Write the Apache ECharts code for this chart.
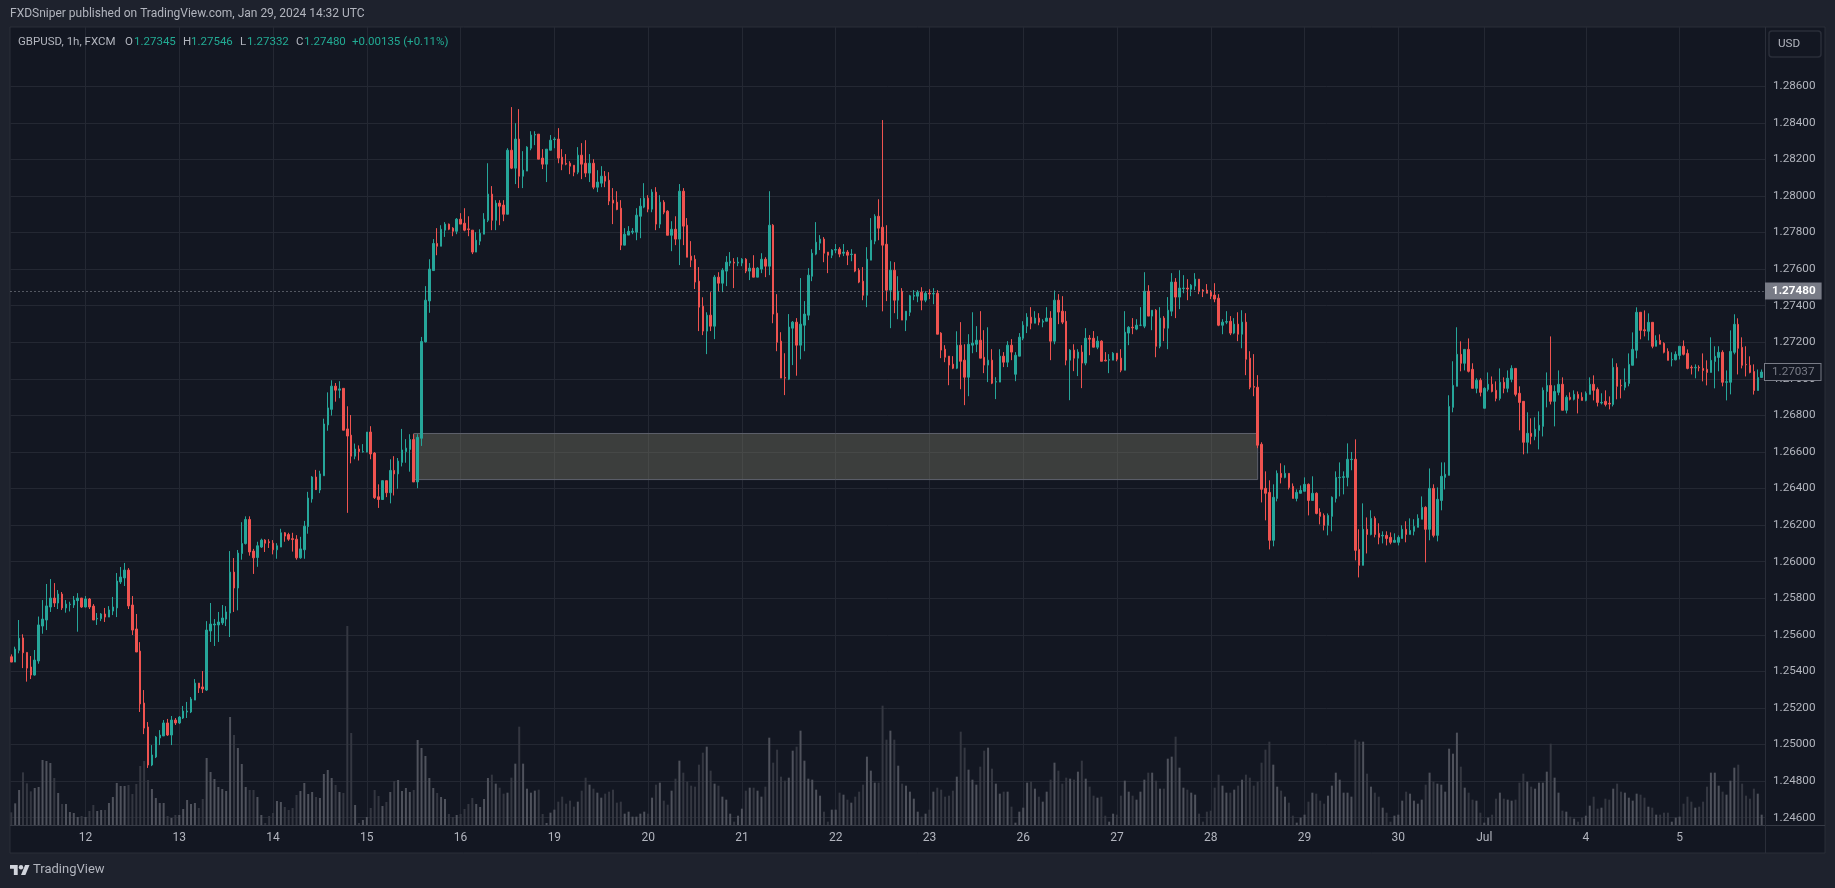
<!DOCTYPE html>
<html>
<head>
<meta charset="utf-8">
<title>GBPUSD</title>
<style>html,body{margin:0;padding:0;background:#1e222d}#chart{width:1835px;height:888px}</style>
<script src="https://cdn.jsdelivr.net/npm/echarts@6/dist/echarts.min.js"></script>
</head>
<body>
<div id="chart"></div>
<script>
// hourly bars, each row: open, close, low, high
var candles = [
[1.25480,1.25451,1.25451,1.25493],[1.25451,1.25522,1.25451,1.25535],[1.25515,1.25581,1.25499,1.25681],[1.25583,1.25502,1.25418,1.25603],
[1.25504,1.25418,1.25344,1.25504],[1.25424,1.25380,1.25358,1.25484],[1.25380,1.25462,1.25377,1.25517],[1.25457,1.25654,1.25442,1.25700],
[1.25648,1.25686,1.25606,1.25790],[1.25681,1.25758,1.25626,1.25878],[1.25752,1.25801,1.25725,1.25905],[1.25801,1.25774,1.25752,1.25883],
[1.25774,1.25823,1.25741,1.25845],[1.25823,1.25747,1.25736,1.25834],[1.25747,1.25768,1.25721,1.25790],[1.25765,1.25768,1.25728,1.25781],
[1.25763,1.25790,1.25747,1.25812],[1.25787,1.25801,1.25617,1.25828],[1.25801,1.25752,1.25747,1.25801],[1.25752,1.25796,1.25750,1.25812],
[1.25796,1.25752,1.25741,1.25801],[1.25757,1.25681,1.25681,1.25768],[1.25687,1.25690,1.25654,1.25719],[1.25688,1.25714,1.25675,1.25719],
[1.25714,1.25697,1.25670,1.25747],[1.25697,1.25736,1.25697,1.25757],[1.25730,1.25752,1.25708,1.25807],[1.25747,1.25894,1.25697,1.25938],
[1.25889,1.25916,1.25878,1.25971],[1.25911,1.25954,1.25867,1.25993],[1.25954,1.25758,1.25741,1.25965],[1.25763,1.25626,1.25599,1.25812],
[1.25632,1.25506,1.25506,1.25714],[1.25511,1.25222,1.25178,1.25560],[1.25227,1.25090,1.25057,1.25298],[1.25096,1.24888,1.24872,1.25123],
[1.24888,1.24943,1.24882,1.24997],[1.24932,1.25041,1.24926,1.25047],[1.25036,1.25052,1.24997,1.25079],[1.25047,1.25118,1.25047,1.25134],
[1.25118,1.25052,1.25047,1.25140],[1.25052,1.25134,1.24997,1.25156],[1.25134,1.25118,1.25107,1.25145],[1.25118,1.25150,1.25112,1.25156],
[1.25145,1.25183,1.25140,1.25211],[1.25178,1.25183,1.25145,1.25233],[1.25178,1.25249,1.25172,1.25260],[1.25243,1.25336,1.25243,1.25358],
[1.25336,1.25309,1.25282,1.25336],[1.25315,1.25304,1.25282,1.25402],[1.25298,1.25626,1.25293,1.25675],[1.25621,1.25659,1.25561,1.25774],
[1.25654,1.25659,1.25539,1.25686],[1.25654,1.25670,1.25561,1.25725],[1.25665,1.25692,1.25654,1.25763],[1.25686,1.25725,1.25648,1.25757],
[1.25719,1.25943,1.25588,1.26058],[1.25943,1.25856,1.25725,1.26020],[1.25856,1.26047,1.25734,1.26064],[1.26045,1.26099,1.26011,1.26216],
[1.26099,1.26231,1.26094,1.26248],[1.26231,1.26053,1.26033,1.26248],[1.26058,1.26021,1.25933,1.26070],[1.26023,1.26087,1.25972,1.26109],
[1.26080,1.26118,1.26075,1.26126],[1.26118,1.26101,1.26053,1.26123],[1.26109,1.26104,1.26075,1.26123],[1.26101,1.26065,1.26040,1.26118],
[1.26065,1.26087,1.26016,1.26101],[1.26080,1.26158,1.26080,1.26180],[1.26158,1.26140,1.26109,1.26162],[1.26148,1.26123,1.26114,1.26158],
[1.26126,1.26121,1.26055,1.26158],[1.26123,1.26021,1.26011,1.26145],[1.26021,1.26070,1.26016,1.26136],[1.26065,1.26194,1.26016,1.26223],
[1.26192,1.26348,1.26153,1.26382],[1.26343,1.26463,1.26323,1.26468],[1.26463,1.26394,1.26392,1.26502],[1.26392,1.26480,1.26375,1.26497],
[1.26470,1.26753,1.26470,1.26782],[1.26748,1.26841,1.26716,1.26926],[1.26833,1.26960,1.26799,1.26992],[1.26960,1.26938,1.26875,1.26977],
[1.26938,1.26945,1.26894,1.26987],[1.26948,1.26719,1.26719,1.26948],[1.26726,1.26687,1.26267,1.26850],[1.26692,1.26577,1.26538,1.26802],
[1.26577,1.26616,1.26560,1.26646],[1.26616,1.26602,1.26553,1.26636],[1.26600,1.26602,1.26597,1.26643],[1.26599,1.26709,1.26599,1.26709],
[1.26709,1.26589,1.26560,1.26741],[1.26594,1.26350,1.26343,1.26599],[1.26355,1.26340,1.26294,1.26423],[1.26340,1.26443,1.26340,1.26443],
[1.26443,1.26377,1.26353,1.26443],[1.26377,1.26499,1.26319,1.26560],[1.26499,1.26480,1.26362,1.26577],[1.26480,1.26550,1.26399,1.26567],
[1.26543,1.26611,1.26521,1.26726],[1.26602,1.26621,1.26541,1.26670],[1.26614,1.26668,1.26492,1.26697],[1.26668,1.26436,1.26436,1.26697],
[1.26436,1.26680,1.26402,1.26697],[1.26675,1.27204,1.26633,1.27229],[1.27202,1.27430,1.27199,1.27507],[1.27426,1.27600,1.27361,1.27654],
[1.27592,1.27740,1.27592,1.27764],[1.27740,1.27725,1.27676,1.27824],[1.27725,1.27818,1.27725,1.27840],[1.27813,1.27846,1.27776,1.27857],
[1.27846,1.27818,1.27813,1.27849],[1.27824,1.27807,1.27780,1.27829],[1.27807,1.27873,1.27791,1.27879],[1.27873,1.27846,1.27846,1.27906],
[1.27851,1.27813,1.27807,1.27933],[1.27820,1.27816,1.27780,1.27889],[1.27813,1.27693,1.27682,1.27813],[1.27693,1.27758,1.27693,1.27802],
[1.27753,1.27796,1.27731,1.27818],[1.27791,1.27873,1.27791,1.27906],[1.27867,1.28010,1.27857,1.28179],[1.28010,1.27867,1.27813,1.28054],
[1.27867,1.27961,1.27813,1.27977],[1.27961,1.27944,1.27840,1.27977],[1.27950,1.27900,1.27862,1.27977],[1.27900,1.28250,1.27900,1.28261],
[1.28250,1.28152,1.28147,1.28486],[1.28152,1.28311,1.28065,1.28398],[1.28311,1.28108,1.28043,1.28475],[1.28108,1.28141,1.28043,1.28245],
[1.28136,1.28267,1.28136,1.28272],[1.28261,1.28333,1.28250,1.28354],[1.28333,1.28336,1.28278,1.28354],[1.28338,1.28201,1.28201,1.28338],
[1.28207,1.28174,1.28147,1.28256],[1.28174,1.28256,1.28076,1.28256],[1.28250,1.28305,1.28250,1.28333],[1.28308,1.28311,1.28261,1.28322],
[1.28311,1.28207,1.28179,1.28371],[1.28212,1.28174,1.28141,1.28256],[1.28178,1.28174,1.28168,1.28229],[1.28179,1.28163,1.28119,1.28190],
[1.28168,1.28130,1.28108,1.28168],[1.28130,1.28223,1.28119,1.28267],[1.28223,1.28174,1.28092,1.28289],[1.28179,1.28125,1.28103,1.28305],
[1.28125,1.28179,1.28076,1.28229],[1.28179,1.28048,1.28037,1.28201],[1.28048,1.28076,1.28021,1.28141],[1.28070,1.28108,1.28048,1.28163],
[1.28108,1.28081,1.28048,1.28136],[1.28086,1.27972,1.27950,1.28130],[1.27977,1.27961,1.27846,1.28043],[1.27966,1.27926,1.27922,1.28026],
[1.27933,1.27731,1.27704,1.27977],[1.27731,1.27791,1.27731,1.27824],[1.27786,1.27807,1.27786,1.27835],[1.27802,1.27807,1.27791,1.27824],
[1.27802,1.27895,1.27758,1.27933],[1.27889,1.27944,1.27769,1.27988],[1.27939,1.27988,1.27933,1.28070],[1.27988,1.27928,1.27911,1.28004],
[1.27928,1.28021,1.27911,1.28037],[1.28021,1.27846,1.27813,1.28048],[1.27846,1.27966,1.27824,1.28004],[1.27966,1.27911,1.27900,1.27977],
[1.27917,1.27785,1.27785,1.27922],[1.27785,1.27818,1.27698,1.27862],[1.27818,1.27764,1.27731,1.27889],[1.27764,1.28026,1.27622,1.28065],
[1.28026,1.27835,1.27731,1.28043],[1.27840,1.27665,1.27665,1.27879],[1.27671,1.27649,1.27611,1.27753],[1.27654,1.27529,1.27491,1.27676],
[1.27534,1.27392,1.27261,1.27611],[1.27397,1.27261,1.27239,1.27446],[1.27261,1.27348,1.27135,1.27364],[1.27348,1.27288,1.27261,1.27474],
[1.27288,1.27556,1.27217,1.27567],[1.27556,1.27523,1.27479,1.27583],[1.27523,1.27594,1.27474,1.27605],[1.27589,1.27638,1.27507,1.27671],
[1.27633,1.27643,1.27616,1.27693],[1.27638,1.27633,1.27496,1.27660],[1.27633,1.27638,1.27616,1.27665],[1.27633,1.27654,1.27616,1.27660],
[1.27654,1.27589,1.27578,1.27660],[1.27589,1.27605,1.27540,1.27633],[1.27605,1.27556,1.27556,1.27676],[1.27556,1.27605,1.27556,1.27611],
[1.27600,1.27654,1.27578,1.27687],[1.27654,1.27616,1.27556,1.27665],[1.27616,1.27840,1.27567,1.28026],[1.27840,1.27354,1.27304,1.27846],
[1.27359,1.27200,1.27151,1.27463],[1.27206,1.27004,1.27004,1.27255],[1.27007,1.27004,1.26911,1.27140],[1.26998,1.27283,1.26993,1.27354],
[1.27277,1.27310,1.27075,1.27316],[1.27310,1.27184,1.27017,1.27332],[1.27184,1.27299,1.27107,1.27551],[1.27293,1.27354,1.27151,1.27425],
[1.27348,1.27567,1.27321,1.27605],[1.27561,1.27687,1.27534,1.27709],[1.27682,1.27747,1.27676,1.27857],[1.27742,1.27764,1.27704,1.27786],
[1.27764,1.27687,1.27638,1.27775],[1.27693,1.27676,1.27578,1.27693],[1.27676,1.27704,1.27660,1.27709],[1.27704,1.27707,1.27687,1.27737],
[1.27709,1.27682,1.27665,1.27720],[1.27687,1.27693,1.27671,1.27737],[1.27693,1.27676,1.27622,1.27704],[1.27680,1.27682,1.27643,1.27709],
[1.27682,1.27589,1.27583,1.27682],[1.27594,1.27529,1.27523,1.27605],[1.27534,1.27457,1.27430,1.27611],[1.27457,1.27654,1.27392,1.27720],
[1.27649,1.27758,1.27649,1.27879],[1.27753,1.27889,1.27736,1.27900],[1.27889,1.27824,1.27758,1.27982],[1.27829,1.27731,1.27369,1.28415],
[1.27736,1.27485,1.27425,1.27840],[1.27485,1.27594,1.27277,1.27643],[1.27594,1.27430,1.27359,1.27638],[1.27430,1.27479,1.27326,1.27561],
[1.27479,1.27321,1.27321,1.27496],[1.27321,1.27370,1.27261,1.27370],[1.27364,1.27454,1.27343,1.27459],[1.27452,1.27456,1.27430,1.27485],
[1.27452,1.27474,1.27419,1.27485],[1.27474,1.27430,1.27375,1.27501],[1.27430,1.27468,1.27419,1.27479],[1.27468,1.27464,1.27436,1.27490],
[1.27464,1.27467,1.27408,1.27496],[1.27468,1.27244,1.27244,1.27485],[1.27250,1.27157,1.27113,1.27255],[1.27162,1.27118,1.27091,1.27184],
[1.27124,1.27075,1.26965,1.27124],[1.27080,1.27058,1.27053,1.27124],[1.27058,1.27184,1.27053,1.27260],[1.27184,1.27096,1.26943,1.27310],
[1.27102,1.27009,1.26856,1.27189],[1.27009,1.27189,1.26905,1.27244],[1.27184,1.27195,1.27140,1.27364],[1.27189,1.27211,1.27146,1.27288],
[1.27211,1.27113,1.27113,1.27370],[1.27118,1.27075,1.27031,1.27266],[1.27075,1.27102,1.26982,1.27282],[1.27102,1.26976,1.26971,1.27162],
[1.26982,1.26985,1.26889,1.27009],[1.26982,1.27124,1.26982,1.27162],[1.27124,1.27091,1.27064,1.27146],[1.27091,1.27184,1.27064,1.27206],
[1.27184,1.27146,1.27102,1.27217],[1.27025,1.27129,1.26987,1.27146],[1.27124,1.27228,1.27124,1.27250],[1.27222,1.27293,1.27211,1.27315],
[1.27288,1.27337,1.27250,1.27359],[1.27337,1.27304,1.27271,1.27392],[1.27304,1.27332,1.27304,1.27370],[1.27332,1.27310,1.27293,1.27359],
[1.27310,1.27315,1.27282,1.27326],[1.27315,1.27332,1.27315,1.27392],[1.27332,1.27206,1.27102,1.27370],[1.27206,1.27430,1.27189,1.27483],
[1.27430,1.27365,1.27299,1.27463],[1.27370,1.27310,1.27299,1.27452],[1.27315,1.27102,1.27074,1.27370],[1.27102,1.27157,1.26883,1.27162],
[1.27157,1.27113,1.27042,1.27189],[1.27113,1.27146,1.27015,1.27162],[1.27146,1.27086,1.26949,1.27184],[1.27086,1.27222,1.27074,1.27277],
[1.27222,1.27217,1.27129,1.27239],[1.27222,1.27173,1.27173,1.27261],[1.27173,1.27206,1.27162,1.27233],[1.27206,1.27096,1.27096,1.27211],
[1.27102,1.27098,1.27096,1.27146],[1.27102,1.27105,1.27031,1.27135],[1.27102,1.27140,1.27102,1.27146],[1.27140,1.27107,1.27096,1.27140],
[1.27113,1.27047,1.27036,1.27162],[1.27047,1.27255,1.27047,1.27370],[1.27250,1.27282,1.27184,1.27288],[1.27282,1.27279,1.27244,1.27332],
[1.27272,1.27293,1.27266,1.27326],[1.27293,1.27293,1.27288,1.27392],[1.27288,1.27479,1.27277,1.27583],[1.27479,1.27343,1.27343,1.27512],
[1.27343,1.27375,1.27266,1.27375],[1.27375,1.27178,1.27118,1.27381],[1.27178,1.27332,1.27167,1.27392],[1.27332,1.27277,1.27206,1.27343],
[1.27277,1.27375,1.27162,1.27447],[1.27370,1.27529,1.27343,1.27578],[1.27529,1.27447,1.27332,1.27551],[1.27447,1.27496,1.27381,1.27594],
[1.27494,1.27496,1.27468,1.27567],[1.27496,1.27491,1.27430,1.27545],[1.27490,1.27512,1.27452,1.27518],[1.27507,1.27545,1.27485,1.27578],
[1.27545,1.27479,1.27463,1.27545],[1.27485,1.27480,1.27447,1.27490],[1.27485,1.27468,1.27468,1.27518],[1.27474,1.27452,1.27436,1.27485],
[1.27458,1.27436,1.27419,1.27523],[1.27441,1.27293,1.27288,1.27463],[1.27293,1.27310,1.27244,1.27326],[1.27310,1.27313,1.27299,1.27370],
[1.27315,1.27250,1.27239,1.27343],[1.27250,1.27299,1.27244,1.27332],[1.27299,1.27244,1.27206,1.27364],[1.27244,1.27310,1.27167,1.27375],
[1.27310,1.27107,1.27020,1.27359],[1.27113,1.26954,1.26943,1.27151],[1.26958,1.26954,1.26905,1.27135],[1.26954,1.26637,1.26621,1.27020],
[1.26642,1.26396,1.26324,1.26653],[1.26401,1.26374,1.26226,1.26494],[1.26379,1.26117,1.26067,1.26445],[1.26117,1.26352,1.26084,1.26423],
[1.26346,1.26483,1.26330,1.26499],[1.26483,1.26461,1.26428,1.26538],[1.26461,1.26483,1.26456,1.26527],[1.26483,1.26406,1.26395,1.26483],
[1.26412,1.26346,1.26346,1.26428],[1.26346,1.26379,1.26330,1.26395],[1.26374,1.26390,1.26374,1.26417],[1.26385,1.26423,1.26385,1.26461],
[1.26423,1.26335,1.26253,1.26428],[1.26335,1.26374,1.26335,1.26467],[1.26374,1.26264,1.26259,1.26379],[1.26270,1.26248,1.26204,1.26292],
[1.26253,1.26199,1.26171,1.26264],[1.26199,1.26253,1.26144,1.26264],[1.26248,1.26352,1.26166,1.26357],[1.26346,1.26461,1.26324,1.26494],
[1.26459,1.26461,1.26357,1.26543],[1.26461,1.26465,1.26368,1.26494],[1.26461,1.26560,1.26412,1.26647],[1.26558,1.26560,1.26500,1.26600],
[1.26560,1.26062,1.26007,1.26669],[1.26067,1.25980,1.25914,1.26177],[1.25980,1.26177,1.25980,1.26319],[1.26177,1.26149,1.26045,1.26242],
[1.26149,1.26237,1.26144,1.26281],[1.26237,1.26149,1.26133,1.26248],[1.26155,1.26133,1.26095,1.26210],[1.26141,1.26144,1.26100,1.26166],
[1.26144,1.26127,1.26089,1.26166],[1.26133,1.26106,1.26095,1.26160],[1.26106,1.26117,1.26106,1.26155],[1.26106,1.26133,1.26089,1.26144],
[1.26127,1.26177,1.26127,1.26199],[1.26177,1.26149,1.26106,1.26221],[1.26149,1.26171,1.26149,1.26237],[1.26166,1.26193,1.26144,1.26232],
[1.26188,1.26237,1.26188,1.26259],[1.26232,1.26297,1.26232,1.26357],[1.26297,1.26177,1.25996,1.26303],[1.26177,1.26401,1.26117,1.26510],
[1.26401,1.26144,1.26133,1.26423],[1.26144,1.26341,1.26111,1.26406],[1.26335,1.26467,1.26281,1.26543],[1.26461,1.26478,1.26395,1.26543],
[1.26472,1.26849,1.26472,1.26910],[1.26844,1.26964,1.26817,1.27096],[1.26959,1.27134,1.26959,1.27282],[1.27134,1.27085,1.27041,1.27205],
[1.27085,1.27161,1.27046,1.27161],[1.27161,1.27041,1.27035,1.27221],[1.27052,1.26948,1.26948,1.27085],[1.26948,1.26992,1.26921,1.27003],
[1.26992,1.26926,1.26904,1.27003],[1.26839,1.26948,1.26839,1.26954],[1.26942,1.26970,1.26931,1.27035],[1.26970,1.26931,1.26926,1.27013],
[1.26937,1.26893,1.26877,1.26986],[1.26893,1.26981,1.26882,1.27057],[1.26981,1.26948,1.26921,1.27008],[1.26948,1.27003,1.26926,1.27046],
[1.26997,1.27057,1.26981,1.27074],[1.27057,1.26915,1.26904,1.27057],[1.26921,1.26871,1.26718,1.26959],[1.26877,1.26653,1.26587,1.26877],
[1.26653,1.26702,1.26592,1.26817],[1.26702,1.26685,1.26642,1.26784],[1.26685,1.26724,1.26664,1.26789],[1.26718,1.26746,1.26614,1.26822],
[1.26740,1.26937,1.26685,1.26953],[1.26931,1.26964,1.26844,1.27035],[1.26964,1.26877,1.26860,1.27232],[1.26877,1.26931,1.26740,1.26964],
[1.26926,1.26970,1.26910,1.27046],[1.26970,1.26828,1.26828,1.27008],[1.26828,1.26899,1.26811,1.26910],[1.26899,1.26888,1.26882,1.26926],
[1.26888,1.26915,1.26882,1.26937],[1.26915,1.26893,1.26811,1.26931],[1.26899,1.26882,1.26882,1.26926],[1.26882,1.26921,1.26877,1.26931],
[1.26915,1.26970,1.26915,1.27008],[1.26970,1.26937,1.26882,1.27019],[1.26942,1.26871,1.26849,1.26953],[1.26868,1.26871,1.26860,1.26921],
[1.26877,1.26860,1.26849,1.26937],[1.26866,1.26862,1.26833,1.26904],[1.26860,1.27063,1.26849,1.27112],[1.27063,1.26959,1.26888,1.27085],
[1.26964,1.26962,1.26893,1.26997],[1.26953,1.26981,1.26937,1.27057],[1.26975,1.27079,1.26959,1.27139],[1.27074,1.27161,1.27074,1.27254],
[1.27156,1.27364,1.27112,1.27391],[1.27364,1.27265,1.27216,1.27364],[1.27268,1.27263,1.27232,1.27374],[1.27260,1.27309,1.27210,1.27358],
[1.27309,1.27178,1.27167,1.27309],[1.27178,1.27210,1.27178,1.27238],[1.27210,1.27189,1.27189,1.27243],[1.27194,1.27145,1.27139,1.27200],
[1.27150,1.27101,1.27101,1.27167],[1.27104,1.27106,1.27068,1.27145],[1.27104,1.27134,1.27101,1.27150],[1.27128,1.27178,1.27106,1.27178],
[1.27178,1.27134,1.27128,1.27210],[1.27139,1.27057,1.27052,1.27161],[1.27063,1.27060,1.27024,1.27074],[1.27060,1.27063,1.27003,1.27079],
[1.27063,1.27060,1.27041,1.27074],[1.27057,1.27046,1.26986,1.27139],[1.27052,1.27035,1.26964,1.27101],[1.27035,1.27101,1.27035,1.27227],
[1.27095,1.27123,1.26948,1.27178],[1.27117,1.27145,1.27041,1.27178],[1.27145,1.26981,1.26959,1.27156],[1.26981,1.26984,1.26882,1.27046],
[1.26981,1.27150,1.26915,1.27265],[1.27145,1.27298,1.27134,1.27353],[1.27298,1.27167,1.27024,1.27331],[1.27172,1.27074,1.27057,1.27227],
[1.27079,1.27077,1.27013,1.27178],[1.27074,1.27035,1.27030,1.27123],[1.27040,1.26936,1.26914,1.27079],[1.26936,1.27007,1.26936,1.27051],
[1.27007,1.27037,1.27007,1.27051]
];
// volume per bar
var volumes = [
38,65,105,158,125,101,111,114,195,192,186,141,96,63,63,39,36,24,27,24,
42,60,42,45,45,66,84,126,117,117,120,93,123,177,192,135,108,81,66,66,
27,21,30,30,48,75,63,66,51,78,201,159,138,114,108,102,324,270,231,183,
114,105,105,84,30,6,27,36,72,69,54,45,51,90,102,126,93,99,84,81,
153,165,141,120,99,96,597,276,60,6,15,24,51,105,87,57,69,99,132,135,
102,111,99,105,255,231,207,141,111,96,84,78,33,24,30,33,48,63,81,63,
54,78,141,151,124,112,94,97,142,184,295,184,109,97,103,106,33,6,37,46,
70,85,64,73,55,70,103,142,121,109,97,82,94,100,106,67,70,34,40,25,
25,34,40,34,82,121,127,73,61,103,139,193,157,130,118,115,181,217,235,163,
124,118,85,76,34,10,28,49,103,112,112,103,85,115,262,187,226,145,133,142,
223,235,283,193,139,136,106,88,40,10,46,46,97,91,76,67,85,100,121,205,
163,127,127,358,256,283,256,178,124,118,100,79,40,25,34,46,100,112,106,85,
88,103,145,280,232,166,136,121,175,223,232,169,124,94,100,100,55,7,40,52,
127,130,109,85,70,100,136,187,163,124,142,139,136,160,193,139,115,88,82,85,
28,10,34,31,88,133,100,88,76,100,136,157,157,133,109,109,199,205,265,172,
112,106,97,91,34,10,40,43,112,151,118,97,97,106,118,136,151,142,118,130,
187,226,250,181,115,103,85,67,28,7,22,31,70,97,94,73,64,88,118,157,
136,97,97,85,256,250,250,154,115,97,85,52,37,10,28,31,73,100,94,73,
64,76,121,157,130,124,121,100,229,214,277,175,112,97,76,73,37,7,22,31,
79,97,79,76,73,76,127,154,130,115,109,127,127,160,244,142,97,43,40,25,
19,10,22,28,58,85,49,52,79,76,109,124,100,97,82,73,94,91,82,55,
52,31,31,37,37,10,22,25,64,85,70,52,55,70,115,157,157,118,100,91,
133,172,181,124,88,79,109,94,31
];
var dayTicks = [19,43,67,91,115,139,163,187,211,235,259,283,307,331,355,377,403,427];
var dayLabels = ['12','13','14','15','16','19','20','21','22','23','26','27','28','29','30','Jul','4','5'];
var priceTicks = [1.246,1.248,1.25,1.252,1.254,1.256,1.258,1.26,1.262,1.264,1.266,1.268,1.27,1.272,1.274,1.276,1.278,1.28,1.282,1.284,1.286];
var lastPrice = 1.2748;
var chartClose = 1.27037;
var zoneBars = [103, 319];
var zonePrices = [1.26701, 1.26449];

var FONT = 'Roboto';

var seriesCandles = candles.map(function(c, i){
  return [i, c[0], c[1], c[2], c[3]];
});
var seriesVolumes = volumes.map(function(v, i){
  return {
    value: [i, v],
    itemStyle: {color: candles[i][1] >= candles[i][0] ? '#4f525c' : '#343741'}
  };
});

var legendBits = [
  ['GBPUSD, 1h, FXCM', 18, '#b2b5be'],
  ['O', 125, '#b2b5be'], ['1.27345', 134, '#22ab94'],
  ['H', 183, '#b2b5be'], ['1.27546', 191, '#22ab94'],
  ['L', 240, '#b2b5be'], ['1.27332', 247, '#22ab94'],
  ['C', 296, '#b2b5be'], ['1.27480', 304, '#22ab94'],
  ['+0.00135 (+0.11%)', 352, '#22ab94']
];
var legendText = legendBits.map(function(b){
  return {type: 'text', x: b[1], y: 42, z: 20, style: {
    text: b[0], fill: b[2], font: '11.5px ' + FONT, verticalAlign: 'middle'
  }};
});

var chart = echarts.init(document.getElementById('chart'), null, {renderer: 'canvas'});
chart.setOption({
  animation: false,
  backgroundColor: '#1e222d',
  grid: {left: 10.5, right: 70, top: 27, bottom: 63},
  xAxis: {
    type: 'value',
    min: -0.2,
    max: 448.85,
    axisLine: {show: false},
    axisTick: {show: false, customValues: dayTicks},
    axisLabel: {
      customValues: dayTicks,
      margin: 7,
      color: '#b2b5be',
      fontFamily: FONT,
      fontSize: 12,
      formatter: function(v){ return dayLabels[dayTicks.indexOf(v)]; }
    },
    splitLine: {show: true, lineStyle: {color: '#242833', width: 1}}
  },
  yAxis: [{
    type: 'value',
    position: 'right',
    min: 1.2456,
    max: 1.28924,
    scale: true,
    axisLine: {show: false},
    axisTick: {show: false, customValues: priceTicks},
    axisLabel: {
      customValues: priceTicks,
      margin: 8,
      color: '#b2b5be',
      fontFamily: FONT,
      fontSize: 11.7,
      formatter: function(v){ return v.toFixed(5); }
    },
    splitLine: {show: true, lineStyle: {color: '#242833', width: 1}}
  }, {
    type: 'value',
    min: 0,
    max: 2394,
    show: false,
    splitLine: {show: false}
  }],
  series: [{
    type: 'bar',
    name: 'Volume',
    yAxisIndex: 1,
    barWidth: 2,
    z: 1,
    data: seriesVolumes
  }, {
    type: 'candlestick',
    name: 'GBPUSD',
    barWidth: 2,
    z: 3,
    itemStyle: {
      color: '#26a69a',
      color0: '#ef5350',
      borderColor: '#26a69a',
      borderColor0: '#ef5350',
      borderWidth: 1
    },
    data: seriesCandles,
    markArea: {
      silent: true,
      z: 2,
      itemStyle: {color: 'rgba(120,118,100,0.41)', borderColor: '#5d606b', borderWidth: 1},
      data: [[{coord: [zoneBars[0], zonePrices[0]]}, {coord: [zoneBars[1], zonePrices[1]]}]]
    },
    markLine: {
      silent: true,
      symbol: 'none',
      precision: 5,
      z: 6,
      data: [{
        yAxis: chartClose,
        lineStyle: {color: 'rgba(0,0,0,0)'},
        label: {
          show: true, position: 'end', distance: 0,
          formatter: chartClose.toFixed(5),
          color: '#787b86', backgroundColor: '#131722', borderColor: '#787b86', borderWidth: 1,
          fontFamily: FONT, fontSize: 11.7, padding: [2, 6, 2, 7]
        }
      }, {
        yAxis: lastPrice,
        lineStyle: {color: '#9598a1', type: [1, 3], width: 1},
        label: {
          show: true, position: 'end', distance: 0,
          formatter: lastPrice.toFixed(5),
          color: '#fff', backgroundColor: '#787b86', fontFamily: FONT,
          fontSize: 11.7, fontWeight: 'bold', padding: [3, 6, 2, 7]
        }
      }]
    }
  }],
  graphic: [
    {type: 'rect', z: -1, shape: {x: 10, y: 27, width: 1815, height: 826},
     style: {fill: '#131722', stroke: '#2a2e39', lineWidth: 1}},
    {type: 'line', z: 0, shape: {x1: 10, y1: 825.5, x2: 1825, y2: 825.5}, style: {stroke: '#363a45', lineWidth: 1}},
    {type: 'line', z: 0, shape: {x1: 1765.5, y1: 27, x2: 1765.5, y2: 853}, style: {stroke: '#2a2e39', lineWidth: 1}},
    {type: 'text', x: 10, y: 14, z: 20, style: {
      text: 'FXDSniper published on TradingView.com, Jan 29, 2024 14:32 UTC',
      fill: '#b2b5be', font: '12px ' + FONT, verticalAlign: 'middle'
    }},
    {type: 'rect', z: 20, shape: {x: 1769, y: 31, width: 52, height: 26, r: 3},
     style: {fill: '#131722', stroke: '#2a2e39', lineWidth: 1.5}},
    {type: 'text', x: 1778, y: 44.5, z: 21, style: {
      text: 'USD', fill: '#b2b5be', font: '11.7px ' + FONT, verticalAlign: 'middle'
    }},
    {type: 'polygon', z: 20, x: 10, y: 862.8, scaleX: 0.55, scaleY: 0.55,
     shape: {points: [[0,4],[14,4],[14,22],[7,22],[7,11],[0,11]]}, style: {fill: '#d1d4dc'}},
    {type: 'polygon', z: 20, x: 10, y: 862.8, scaleX: 0.55, scaleY: 0.55,
     shape: {points: [[28,22],[20,22],[27.5,4],[35.5,4]]}, style: {fill: '#d1d4dc'}},
    {type: 'circle', z: 20, x: 10, y: 862.8, scaleX: 0.55, scaleY: 0.55,
     shape: {cx: 20, cy: 8, r: 4}, style: {fill: '#d1d4dc'}},
    {type: 'text', x: 33, y: 870, z: 20, style: {
      text: 'TradingView', fill: '#b2b5be', font: '13px ' + FONT, verticalAlign: 'middle'
    }}
  ].concat(legendText)
});
</script>
</body>
</html>
